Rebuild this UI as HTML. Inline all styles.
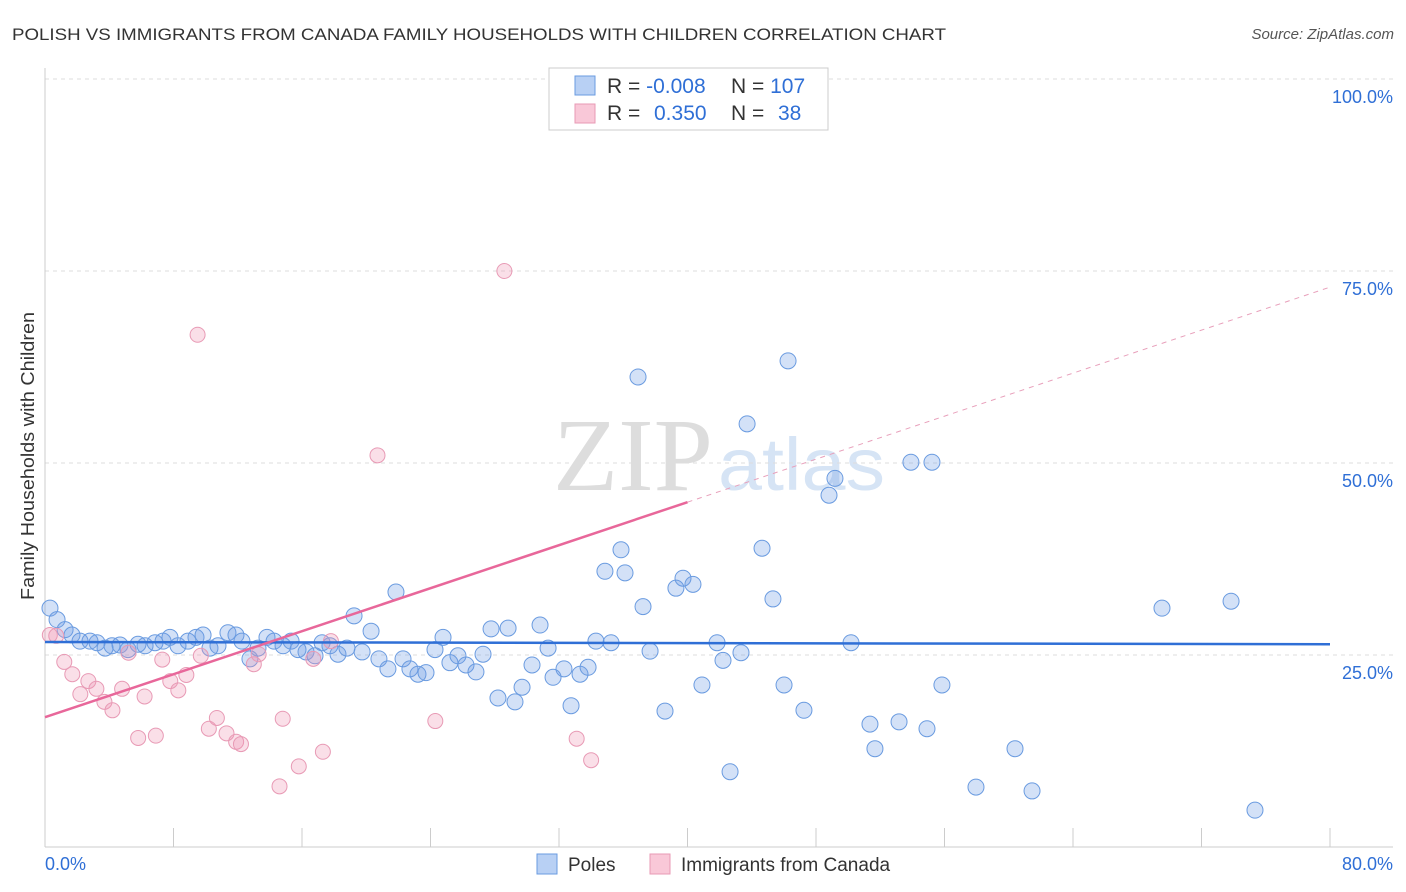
<!DOCTYPE html>
<html><head><meta charset="utf-8">
<style>
body{margin:0;background:#fff;font-family:"Liberation Sans",sans-serif;}
#wrap{position:relative;width:1406px;height:892px;overflow:hidden;}
</style></head>
<body>
<div id="wrap">
<svg id="svg" width="1406" height="892" xmlns="http://www.w3.org/2000/svg">
<text x="12" y="40" font-size="17" fill="#333" textLength="934" lengthAdjust="spacingAndGlyphs">POLISH VS IMMIGRANTS FROM CANADA FAMILY HOUSEHOLDS WITH CHILDREN CORRELATION CHART</text>
<text x="1394" y="39" font-size="15" fill="#555" font-style="italic" text-anchor="end">Source: ZipAtlas.com</text>
<text x="34" y="600" font-size="18" fill="#333" textLength="288" lengthAdjust="spacingAndGlyphs" transform="rotate(-90 34 600)">Family Households with Children</text>
<text x="553" y="490" font-size="104" fill="#ddd" textLength="160" lengthAdjust="spacingAndGlyphs" font-family="Liberation Serif,serif">ZIP</text>
<text x="718" y="490" font-size="74" fill="#d6e4f5" textLength="167" lengthAdjust="spacingAndGlyphs">atlas</text>
<g id="grid"></g>
<g id="axes"></g>
<g id="marks"></g>
<g>
<rect x="549" y="68" width="279" height="62" fill="#fff" stroke="#ccc"/>
<rect x="575" y="76" width="20" height="19" fill="#b8d0f4" stroke="#6a9be0"/>
<rect x="575" y="104" width="20" height="19" fill="#f9c8d8" stroke="#e89ab5"/>
<text x="607" y="93" font-size="21" fill="#333">R = <tspan fill="#2f6fd6">-0.008</tspan></text>
<text x="731" y="93" font-size="21" fill="#333">N = <tspan fill="#2f6fd6">107</tspan></text>
<text x="607" y="120" font-size="21" fill="#333">R = <tspan fill="#2f6fd6" x="654">0.350</tspan></text>
<text x="731" y="120" font-size="21" fill="#333">N = <tspan fill="#2f6fd6" x="778">38</tspan></text>
</g>
<g>
<rect x="537" y="854" width="20" height="20" fill="#b8d0f4" stroke="#6a9be0"/>
<text x="568" y="871" font-size="19" fill="#333">Poles</text>
<rect x="650" y="854" width="20" height="20" fill="#f9c8d8" stroke="#e89ab5"/>
<text x="681" y="871" font-size="19" fill="#333">Immigrants from Canada</text>
</g>
</svg>
</div>
<script>
const yTicks=[25,50,75,100];
const yTickLabels=["25.0%","50.0%","75.0%","100.0%"];
const xTickCount=10;
const polesX=[0.31,0.75,1.25,1.68,2.18,2.80,3.24,3.74,4.17,4.67,5.17,5.79,6.23,6.85,7.35,7.78,8.28,8.90,9.40,9.84,10.27,10.77,11.39,11.89,12.26,12.76,13.26,13.82,14.26,14.82,15.32,15.75,16.25,16.81,17.25,17.74,18.24,18.80,19.24,19.74,20.30,20.79,21.35,21.85,22.29,22.72,23.22,23.72,24.28,24.78,25.21,25.71,26.21,26.83,27.27,27.77,28.20,28.83,29.26,29.70,30.32,30.82,31.32,31.63,32.31,32.75,33.31,33.81,34.30,34.86,35.24,35.86,36.11,36.92,37.23,37.67,38.60,39.28,39.72,40.34,40.90,41.84,42.21,42.65,43.33,43.71,44.64,45.32,46.01,46.26,47.25,48.81,49.18,50.18,51.36,51.67,53.17,53.91,54.91,55.22,55.84,57.96,60.39,61.45,69.54,73.84,75.33];
const polesY=[31.1,29.6,28.3,27.6,26.8,26.8,26.6,25.9,26.2,26.3,25.7,26.4,26.2,26.6,26.8,27.3,26.2,26.8,27.3,27.6,25.9,26.2,27.9,27.6,26.8,24.5,25.9,27.3,26.8,26.2,26.8,25.7,25.4,24.9,26.6,26.2,25.1,25.9,30.1,25.4,28.1,24.5,23.2,33.2,24.5,23.2,22.5,22.7,25.7,27.3,24.0,24.9,23.7,22.8,25.1,28.4,19.4,28.5,18.9,20.8,23.7,28.9,25.9,22.1,23.2,18.4,22.5,23.4,26.8,35.9,26.6,38.7,35.7,61.2,31.3,25.5,17.7,33.7,35.0,34.2,21.1,26.6,24.3,9.8,25.3,55.1,38.9,32.3,21.1,63.3,17.8,45.8,48.0,26.6,16.0,12.8,16.3,50.1,15.4,50.1,21.1,7.8,12.8,7.3,31.1,32.0,4.8];
const canX=[0.3,0.7,1.2,1.7,2.2,2.7,3.2,3.7,4.2,4.8,5.2,5.8,6.2,6.9,7.3,7.8,8.3,8.8,9.5,9.7,10.2,10.7,11.3,11.9,12.2,13.0,13.3,14.6,14.8,15.8,16.7,17.3,17.8,20.7,24.3,28.6,33.1,34.0];
const canY=[27.6,27.5,24.1,22.5,19.9,21.6,20.6,18.9,17.8,20.6,25.3,14.2,19.6,14.5,24.4,21.6,20.4,22.4,66.7,24.9,15.4,16.8,14.8,13.7,13.4,23.8,25.1,7.9,16.7,10.5,24.5,12.4,26.8,51.0,16.4,75.0,14.1,11.3];
const polesLine=[26.7,26.4];
const canLine=[16.9,72.9];
const X0=45,X1=1330,Y0=847,YT=79;
const sx=v=>X0+(X1-X0)*v/80;
const sy=v=>Y0-(Y0-YT)*v/100;
const NS="http://www.w3.org/2000/svg";
function mk(tag,attrs,parent){const e=document.createElementNS(NS,tag);for(const k in attrs)e.setAttribute(k,attrs[k]);document.getElementById(parent).appendChild(e);return e;}
yTicks.forEach((t,i)=>{
  const l=mk('line',{x1:X0,x2:1393,y1:sy(t),y2:sy(t),stroke:'#ddd','stroke-dasharray':'4,4'},'grid');
  
  
  const tx=mk('text',{x:1393,y:sy(t)+24,'font-size':18,fill:'#2f6fd6','text-anchor':'end'},'axes');
  tx.textContent=yTickLabels[i];
  
  
});
const ya=mk('line',{x1:X0,x2:X0,y1:68,y2:Y0,stroke:'#ccc'},'axes');


const xa=mk('line',{x1:X0,x2:1393,y1:Y0,y2:Y0,stroke:'#ccc'},'axes');


for(let i=0;i<=xTickCount;i++){
  const v=80*i/xTickCount;
  const t=mk('line',{x1:sx(v),x2:sx(v),y1:828,y2:Y0,stroke:'#ccc'},'axes');
  
  
}
const xl0=mk('text',{x:45,y:870,'font-size':18,fill:'#2f6fd6'},'axes');xl0.textContent='0.0%';


const xl1=mk('text',{x:1393,y:870,'font-size':18,fill:'#2f6fd6','text-anchor':'end'},'axes');xl1.textContent='80.0%';


polesX.forEach((x,i)=>{
  const c=mk('circle',{cx:sx(x),cy:sy(polesY[i]),r:8,fill:'rgba(110,155,230,0.3)',stroke:'#6a9be0','stroke-width':1},'marks');
  
  
});
canX.forEach((x,i)=>{
  const c=mk('circle',{cx:sx(x),cy:sy(canY[i]),r:7.5,fill:'rgba(240,150,180,0.3)',stroke:'#e89ab5','stroke-width':1},'marks');
  
  
});
const pl=mk('line',{x1:sx(0),x2:sx(80),y1:sy(polesLine[0]),y2:sy(polesLine[1]),stroke:'#2f6fd6','stroke-width':2.5},'marks');


const cm=v=>canLine[0]+(canLine[1]-canLine[0])*v/80;
const cl=mk('line',{x1:sx(0),x2:sx(40),y1:sy(cm(0)),y2:sy(cm(40)),stroke:'#e8679a','stroke-width':2.5},'marks');


const cd=mk('line',{x1:sx(40),x2:sx(80),y1:sy(cm(40)),y2:sy(cm(80)),stroke:'#e8a0bb','stroke-width':1,'stroke-dasharray':'5,5'},'marks');


</script>
</body></html>
